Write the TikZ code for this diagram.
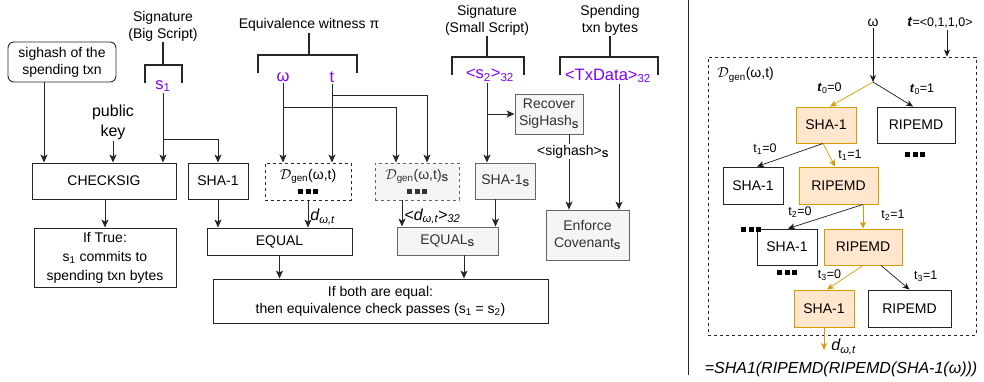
\documentclass[tikz,border=0pt]{standalone}
\usepackage{fontspec}
\setmainfont{Liberation Sans}
\usepackage{tikz}
\usetikzlibrary{positioning,calc,arrows.meta}
\definecolor{WitPurple}{RGB}{127, 0, 255}
\definecolor{PathOrange}{RGB}{215, 155, 0}
\definecolor{PathFill}{RGB}{255, 230, 204}
\definecolor{SmallFill}{RGB}{245, 245, 245}
\definecolor{SmallLine}{RGB}{102, 102, 102}
\tikzset{
  opbox/.style={draw=black!85, align=center, inner sep=2pt},
  smallbox/.style={opbox, draw=SmallLine, fill=SmallFill, text=black!80},
  pathbox/.style={opbox, draw=PathOrange, fill=PathFill},
  header/.style={align=center, inner sep=1pt},
  witness/.style={text=WitPurple, inner sep=1pt, font=\fontsize{16.5}{19}\selectfont},
  flow/.style={-{Stealth[length=8pt,width=7pt,inset=2pt]}, draw=black!85},
  treeflow/.style={-{Stealth[length=7pt,width=6pt,inset=2pt]}, draw=black!90, line width=0.7pt},
  pathflow/.style={treeflow, draw=PathOrange},
  brace/.style={line width=1.8pt, draw=black!85},
  bitlabel/.style={font=\fontsize{12.5}{14}\selectfont, inner sep=1pt},
  dlabel/.style={font=\fontsize{16}{18}\selectfont\itshape, inner sep=1pt},
}
\newcommand{\blkdots}{\rule{5pt}{5pt}\hspace{2.5pt}\rule{5pt}{5pt}\hspace{2.5pt}\rule{5pt}{5pt}}
\newcommand{\subS}{\textsubscript{\textbf{S}}}
\newcommand{\dgen}{$\mathcal{D}$\textsubscript{gen}(ω,t)}

\begin{document}
\begin{tikzpicture}[x=1pt, y=-1pt, line width=0.9pt, font=\fontsize{14}{17}\selectfont]
  \useasboundingbox (0,0) rectangle (984,381);

  % big script side
  \node[opbox, rounded corners=6pt, minimum width=108, minimum height=40] (sightxn) at (62,62) {sighash of the\\spending txn};
  \node[header] (bigsig) at (163,26) {Signature\\(Big Script)};
  \draw[brace] (145,83) |- (182,65) -- (182,83);
  \draw[brace] (bigsig.south) -- (bigsig.south |- 0,65);
  \node[witness] (sone) at (163,86) {s\textsubscript{1}};
  \node[header, font=\fontsize{16}{20}\selectfont] (pubkey) at (113,122) {public\\key};
  \node[opbox, minimum width=144, minimum height=36] (checksig) at (104,181) {CHECKSIG};
  \node[opbox, minimum width=60, minimum height=36] (shaone) at (218,181) {SHA-1};
  \node[opbox, minimum width=142, minimum height=59, font=\fontsize{14}{19}\selectfont] (iftrue) at (105,257.5) {If True:\\s\textsubscript{1} commits to\\spending txn bytes};
  \node[opbox, minimum width=145, minimum height=27] (equal) at (279.5,241.5) {EQUAL};
  \node[opbox, minimum width=335, minimum height=44] (verdict) at (380.5,301) {If both are equal:\\then equivalence check passes (s\textsubscript{1} = s\textsubscript{2})};
  \coordinate (sfork1) at (163,139);

  \draw[flow] ([xshift=-18pt]sightxn.south) -- ([xshift=-18pt]sightxn.south |- checksig.north);
  \draw[flow] (pubkey.south) -- (pubkey.south |- checksig.north);
  \draw[flow] (sone.south) -- (sone.south |- checksig.north);
  \draw[flow] (sfork1) -| (shaone.north);
  \draw[flow] (checksig.south -| iftrue.north) -- (iftrue.north);
  \draw[flow] (shaone.south) -- (shaone.south |- equal.north);

  % equivalence witness
  \node[header] (eqwit) at (309,25) {Equivalence witness π};
  \draw[brace] (258,73) |- (357,55) -- (357,73);
  \draw[brace] (eqwit.south) -- (eqwit.south |- 0,55);
  \node[witness] (omega) at (283,77) {ω};
  \node[witness] (tvec) at (332,77) {t};
  \coordinate (wfork) at (283,107);
  \coordinate (tfork) at (332,95);
  \node[opbox, dashed, minimum width=86, minimum height=37, font=\fontsize{14}{15}\selectfont] (dgenbig) at (308,181.5) {\dgen\\\blkdots};
  \node[smallbox, dashed, minimum width=84, minimum height=37, font=\fontsize{14}{15}\selectfont] (dgensmall) at (417,181.5) {\dgen\subS\\\blkdots};
  \node[smallbox, minimum width=101, minimum height=28] (equals) at (447.5,241) {EQUAL\subS};

  \draw[flow] (omega.south) -- (omega.south |- dgenbig.north);
  \draw[flow] (tvec.south) -- (tvec.south |- dgenbig.north);
  \draw[flow] (wfork) -| ([xshift=-21pt]dgensmall.north);
  \draw[flow] (tfork) -| ([xshift=10pt]dgensmall.north);
  \draw[flow] (dgenbig.south) -- node[dlabel, right=1pt, yshift=-3pt] {d\textsubscript{ω,t}} (dgenbig.south |- equal.north);
  \draw[flow] ([xshift=-15pt]dgensmall.south) -- node[dlabel, right=1pt, yshift=-3pt] {<d\textsubscript{ω,t}>\textsubscript{32}} ([xshift=-15pt]dgensmall.south |- equals.north);
  \draw[flow] (equal.south) -- (equal.south |- verdict.north);
  \draw[flow] ([xshift=16.5pt]equals.south) -- ([xshift=16.5pt]equals.south |- verdict.north);

  % small script side
  \node[header] (smallsig) at (487,20) {Signature\\(Small Script)};
  \draw[brace] (452,75) |- (524,57) -- (524,75);
  \draw[brace] (smallsig.south) -- (smallsig.south |- 0,57);
  \node[witness] (stwo) at (490,75) {<s\textsubscript{2}>\textsubscript{32}};
  \node[smallbox, minimum width=68, minimum height=40] (recover) at (549,114) {Recover\\SigHash\subS};
  \node[smallbox, minimum width=60, minimum height=36] (shasmall) at (505.5,181) {SHA-1\subS};
  \node[smallbox, minimum width=83, minimum height=50] (enforce) at (587.5,235) {Enforce\\Covenant\subS};
  \coordinate (sfork2) at (487,114);

  \draw[flow] (sfork2 |- stwo.south) -- (sfork2 |- shasmall.north);
  \draw[flow] (sfork2) -- (recover.west);
  \draw[flow] ([xshift=-10pt]shasmall.south) -- ([xshift=-10pt]shasmall.south |- equals.north);
  \draw[flow] ([xshift=20pt]recover.south) -- node[pos=0.23, xshift=4pt, fill=white, inner sep=1pt] {<sighash>\subS} ([xshift=20pt]recover.south |- enforce.north);

  % spending txn
  \node[header] (spend) at (610,20) {Spending\\txn bytes};
  \draw[brace] (560,75) |- (658,57) -- (658,75);
  \draw[brace] (spend.south) -- (spend.south |- 0,57);
  \node[witness] (txdata) at (608,76) {<TxData>\textsubscript{32}};
  \draw[flow] ([xshift=11pt]txdata.south) -- ([xshift=11pt]txdata.south |- enforce.north);

  % divider
  \draw[black!85] (688,0) -- (688,375);

  % D_gen tree
  \node[inner sep=1pt] (omegar) at (873,23) {ω};
  \node[inner sep=1pt] (tbits) at (940,23) {\textbf{\textit{t}}{\fontsize{12.5}{14}\selectfont=<0,1,1,0>}};
  \node[draw=black!85, dashed, minimum width=268, minimum height=278] (gen) at (842,196) {};
  \node[anchor=west, inner sep=0pt] (genlabel) at (717,75) {\dgen};
  \coordinate (root) at (873,82);
  \draw[treeflow] (omegar.south) -- (root);
  \draw[treeflow] ([xshift=7pt]tbits.south) -- ([xshift=7pt]tbits.south |- gen.north);

  \node[pathbox, minimum width=60, minimum height=36] (shaA) at (826,125) {SHA-1};
  \node[opbox, minimum width=78, minimum height=36] (ripA) at (916,125) {RIPEMD};
  \node[inner sep=0pt] (dotsA) at (915,154) {\blkdots};
  \node[opbox, minimum width=60, minimum height=37] (shaB) at (753,185.5) {SHA-1};
  \node[pathbox, minimum width=79, minimum height=37] (ripB) at (838.5,185.5) {RIPEMD};
  \node[opbox, minimum width=60, minimum height=36] (shaC) at (787,247) {SHA-1};
  \node[pathbox, minimum width=78, minimum height=36] (ripC) at (863,247) {RIPEMD};
  \node[inner sep=0pt] (dotsB) at (751,229) {\blkdots};
  \node[inner sep=0pt] (dotsC) at (787,272) {\blkdots};
  \node[pathbox, minimum width=60, minimum height=37] (shaD) at (824,308.5) {SHA-1};
  \node[opbox, minimum width=83, minimum height=37] (ripD) at (909.5,308.5) {RIPEMD};
  \coordinate (dout) at (824,350);

  \draw[pathflow] (root) -- node[bitlabel, xshift=-22pt, yshift=6pt] {\textbf{\textit{t}}\textsubscript{0}=0} ([xshift=4pt]shaA.north);
  \draw[treeflow] (root) -- node[bitlabel, xshift=29pt, yshift=5.5pt] {\textbf{\textit{t}}\textsubscript{0}=1} ([xshift=-3pt]ripA.north);
  \draw[treeflow] ([xshift=-3pt]shaA.south) -- node[bitlabel, xshift=-25pt, yshift=6pt] {t\textsubscript{1}=0} ([xshift=4pt]shaB.north);
  \draw[pathflow] ([xshift=-3pt]shaA.south) -- node[bitlabel, xshift=21pt] {t\textsubscript{1}=1} ([xshift=-3.5pt]ripB.north);
  \draw[treeflow] ([xshift=24.5pt]ripB.south) -- node[bitlabel, xshift=-25.5pt, yshift=4.5pt] {t\textsubscript{2}=0} ([xshift=1pt]shaC.north);
  \draw[pathflow] ([xshift=24.5pt]ripB.south) -- node[bitlabel, xshift=30pt, yshift=1.5pt] {t\textsubscript{2}=1} (ripC.north);
  \draw[pathflow] (ripC.south) -- node[bitlabel, xshift=-15.5pt, yshift=2pt] {t\textsubscript{3}=0} ([xshift=3pt]shaD.north);
  \draw[treeflow] ([xshift=18pt]ripC.south) -- node[bitlabel, xshift=30.5pt, yshift=1.5pt] {t\textsubscript{3}=1} (ripD.north);
  \draw[pathflow] (shaD.south) -- (dout) node[dlabel, right=6pt, yshift=3pt] {d\textsubscript{ω,t}};

  \node[dlabel] (formula) at (841,369) {=SHA1(RIPEMD(RIPEMD(SHA-1(ω)))};
\end{tikzpicture}
\end{document}
